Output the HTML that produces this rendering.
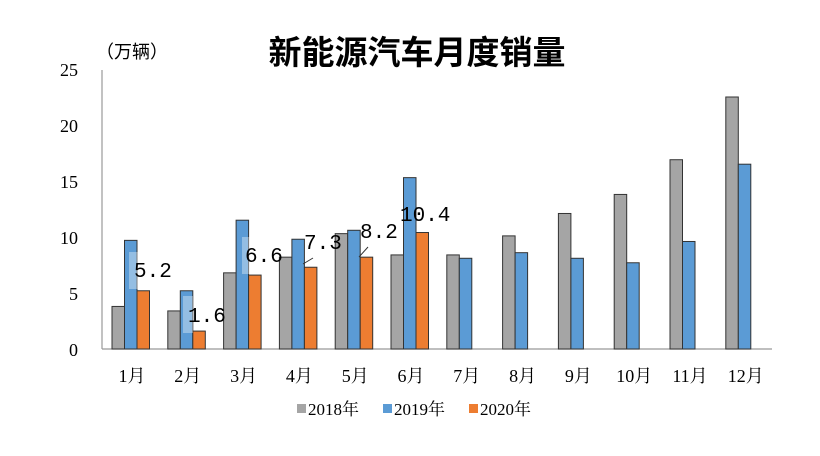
<!DOCTYPE html>
<html><head><meta charset="utf-8"><style>
html,body{margin:0;padding:0;background:#fff}
svg{display:block}
</style></head><body>
<svg width="820" height="456" xmlns="http://www.w3.org/2000/svg" font-family="'Liberation Serif','Noto Serif CJK SC',serif">
<text x="417" y="64" font-size="33" font-weight="bold" text-anchor="middle" font-family="'Liberation Sans','Noto Sans CJK SC',sans-serif">新能源汽车月度销量</text>
<text x="96" y="58" font-size="18" font-family="'Liberation Sans','Noto Sans CJK SC',sans-serif">（万辆）</text>
<g font-size="18" text-anchor="end" fill="#000">
<text x="78" y="76">25</text><text x="78" y="132">20</text><text x="78" y="188">15</text><text x="78" y="244">10</text><text x="78" y="300">5</text><text x="78" y="356">0</text>
</g>
<line x1="102" y1="70" x2="102" y2="349" stroke="#999" stroke-width="1.2"/>
<line x1="102" y1="349" x2="772" y2="349" stroke="#999" stroke-width="1.2"/>
<g id="bars" stroke="#333" stroke-width="1"></g>
<g id="months" font-size="18" text-anchor="middle" font-family="'Liberation Serif','Noto Serif CJK SC',serif"></g>
<g font-size="21" font-family="'Liberation Mono','Noto Serif CJK SC',monospace">
<rect x="129" y="252" width="10" height="37" fill="#fff" opacity="0.35"/>
<text x="134" y="277">5.2</text>
<rect x="183" y="296" width="10" height="37" fill="#fff" opacity="0.35"/>
<text x="188" y="322">1.6</text>
<rect x="242" y="237" width="10" height="37" fill="#fff" opacity="0.35"/>
<text x="245" y="262">6.6</text>
<text x="304" y="249">7.3</text>
<line x1="303" y1="264" x2="313" y2="258" stroke="#333"/>
<text x="360" y="238">8.2</text>
<line x1="359" y1="257" x2="368" y2="247" stroke="#333"/>
<text x="400" y="221">10.4</text>
</g>
<g font-size="17" font-family="'Liberation Serif','Noto Serif CJK SC',serif">
<rect x="297" y="404" width="9" height="9" fill="#a5a5a5"/><text x="308" y="415">2018年</text>
<rect x="383" y="404" width="9" height="9" fill="#5b9bd5"/><text x="394" y="415">2019年</text>
<rect x="469" y="404" width="9" height="9" fill="#ed7d31"/><text x="480" y="415">2020年</text>
</g>
</svg>
<script>
var a=[3.8,3.4,6.8,8.2,10.3,8.4,8.4,10.1,12.1,13.8,16.9,22.5];
var b=[9.7,5.2,11.5,9.8,10.6,15.3,8.1,8.6,8.1,7.7,9.6,16.5];
var c=[5.2,1.6,6.6,7.3,8.2,10.4];
var g=document.getElementById('bars'),m=document.getElementById('months'),ns='http://www.w3.org/2000/svg',k=11.2;
function r(x,v,f){var e=document.createElementNS(ns,'rect');e.setAttribute('x',x);e.setAttribute('y',349-v*k);e.setAttribute('width',12.5);e.setAttribute('height',v*k);e.setAttribute('fill',f);g.appendChild(e);}
for(var i=0;i<12;i++){var x0=102+55.8*i;r(x0+10,a[i],'#a5a5a5');r(x0+22.5,b[i],'#5b9bd5');if(i<6)r(x0+35,c[i],'#ed7d31');
var t=document.createElementNS(ns,'text');t.setAttribute('x',x0+30);t.setAttribute('y',382);t.textContent=(i+1)+'月';m.appendChild(t);}
</script>
</body></html>
